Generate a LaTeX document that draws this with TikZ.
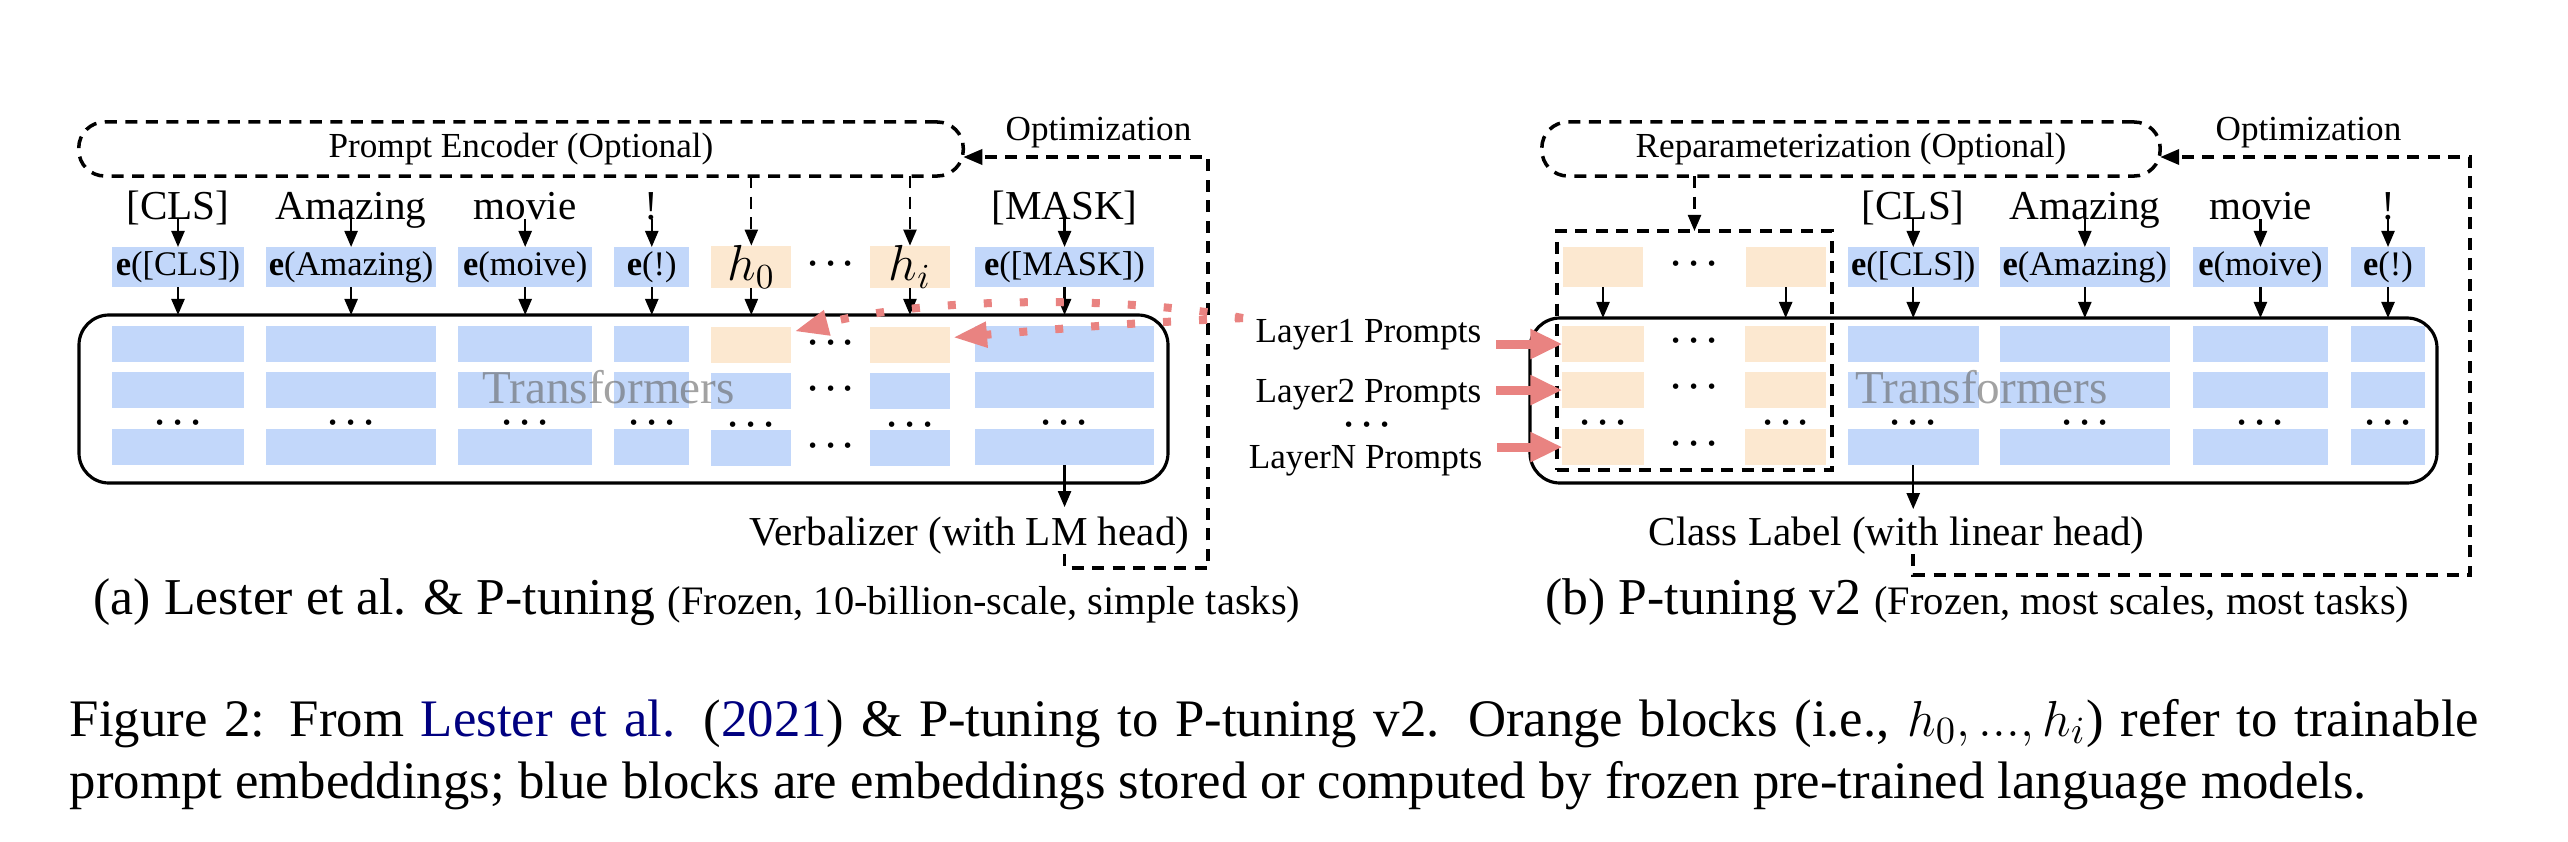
\documentclass[tikz,border=0pt]{standalone}
\usepackage{fontspec}
\setmainfont{Liberation Serif}
\usetikzlibrary{arrows.meta,positioning,calc,fit}
\newcommand{\SmallLbl}{\fontsize{10}{12}\selectfont}
\newcommand{\TokFont}{\fontsize{11.7}{14}\selectfont}
\newcommand{\EmbFont}{\fontsize{9.8}{12}\selectfont}
\newcommand{\HFont}{\fontsize{14.4}{16}\selectfont}
\newcommand{\TfFont}{\fontsize{13.4}{16}\selectfont}
\newcommand{\CapFont}{\fontsize{14.7}{17.6}\selectfont}
\newcommand{\CapBig}{\fontsize{15}{18}\selectfont}
\newcommand{\CapSmall}{\fontsize{11.5}{14}\selectfont}
\definecolor{EmbFill}{RGB}{194,215,250}
\definecolor{PrmFill}{RGB}{252,232,208}
\definecolor{RedArr}{RGB}{233,131,129}
\definecolor{CiteBlue}{RGB}{0,0,128}
\definecolor{TfGray}{RGB}{100,100,100}
\tikzset{
  %% blocks
  embBlk/.style={
    fill=EmbFill,
    minimum height=0.4cm,
    inner xsep=0.5pt, inner ysep=0pt, outer sep=0pt,
    font=\EmbFont,
  },
  prmBlk/.style={embBlk, fill=PrmFill},
  rowBlk/.style={
    fill=EmbFill,
    minimum height=0.36cm,
    inner sep=0pt, outer sep=0pt,
  },
  prmRow/.style={rowBlk, fill=PrmFill},
  encBox/.style={
    draw, line width=1pt,
    dash pattern=on 0.12cm off 0.085cm,
    rounded corners=0.26cm,
    inner sep=0pt, outer sep=0pt,
    font=\SmallLbl,
  },
  grpBox/.style={
    draw, line width=1pt,
    dash pattern=on 0.12cm off 0.085cm,
    inner sep=0pt, outer sep=0pt,
  },
  tfBox/.style={
    draw, line width=0.9pt,
    rounded corners=0.3cm,
    inner sep=0pt, outer sep=0pt,
  },
  %% texts
  tok/.style={font=\TokFont, inner sep=0pt, anchor=base},
  lbl/.style={font=\SmallLbl, inner sep=0pt},
  lblB/.style={font=\TokFont, inner sep=0pt},
  dotsTxt/.style={font=\SmallLbl\boldmath, inner sep=0pt, text height=3.3pt, text depth=0pt},
  tfTxt/.style={font=\TfFont, text=TfGray, text opacity=0.6, inner sep=0pt},
  capTxt/.style={font=\CapFont, inner sep=0pt, anchor=base west},
  %% arrows
  arr/.style={
    -{Triangle[length=0.16cm,width=0.13cm]},
    line width=0.65pt,
  },
  darr/.style={arr, dash pattern=on 0.12cm off 0.085cm},
  optArr/.style={
    -{Triangle[length=0.19cm,width=0.15cm]},
    line width=1pt,
    dash pattern=on 0.12cm off 0.085cm,
  },
  layArr/.style={
    -{Triangle[length=0.32cm,width=0.28cm]},
    line width=0.09cm,
    RedArr,
  },
  dotArr/.style={
    -{Triangle[length=0.34cm,width=0.24cm]},
    line width=0.08cm,
    dash pattern=on 0.08cm off 0.28cm,
    RedArr,
  },
}
%% three transformer rows under an embedding block: #1 name, #2 first-row style, #3 other rows, #4 width
\newcommand{\TfCol}[4]{%
  \node[#2, minimum width=#4, below=0.39cm of #1] (#1-r1) {};
  \node[#3, minimum width=#4, below=0.10cm of #1-r1] (#1-r2) {};
  \node[#3, minimum width=#4, below=0.21cm of #1-r2] (#1-r3) {};
  \node[dotsTxt] (#1-dd) at ($(#1-r2.south)!0.85!(#1-r3.north)$) {$\cdots$};
}

\begin{document}
\begin{tikzpicture}[x=0.01cm, y=-0.01cm]

\fill[white] (0,0) rectangle (2568,842);
\useasboundingbox (0,0) rectangle (2568,842);

%%═══════════════════════════════ PANEL (a) ═══════════════════════════════════

\node[encBox, minimum width=8.84cm, minimum height=0.54cm] (PE) at (521,149)
  {Prompt Encoder (Optional)};

%% ── Embedding row ──────────────────────────────────────────────────────────
\node[embBlk, minimum width=1.32cm] (eCLS) at (178,267) {\textbf{e}([CLS])};
\node[embBlk, minimum width=1.70cm, right=0.22cm of eCLS] (eAmz) {\textbf{e}(Amazing)};
\node[embBlk, minimum width=1.34cm, right=0.22cm of eAmz] (eMov) {\textbf{e}(moive)};
\node[embBlk, minimum width=0.75cm, right=0.22cm of eMov] (eExc) {\textbf{e}(!)};
\node[prmBlk, minimum width=0.80cm, font=\HFont, right=0.22cm of eExc] (eH0) {$h_0$};
\node[dotsTxt, right=0.15cm of eH0] (eHd) {$\cdots$};
\node[prmBlk, minimum width=0.80cm, font=\HFont, right=0.15cm of eHd] (eHi) {$h_i$};
\node[embBlk, minimum width=1.79cm, right=0.25cm of eHi] (eMsk) {\textbf{e}([MASK])};

%% ── Input tokens ───────────────────────────────────────────────────────────
\coordinate (TokY) at (0,219);
\node[tok] (tCLS) at (eCLS |- TokY) {[CLS]};
\node[tok] (tAmz) at (eAmz |- TokY) {Amazing};
\node[tok] (tMov) at (eMov |- TokY) {movie};
\node[tok] (tExc) at (eExc |- TokY) {!};
\node[tok] (tMsk) at (eMsk |- TokY) {[MASK]};

%% ── Transformer rows ───────────────────────────────────────────────────────
\TfCol{eCLS}{rowBlk}{rowBlk}{1.32cm}
\TfCol{eAmz}{rowBlk}{rowBlk}{1.70cm}
\TfCol{eMov}{rowBlk}{rowBlk}{1.34cm}
\TfCol{eExc}{rowBlk}{rowBlk}{0.75cm}
\TfCol{eH0}{prmRow}{rowBlk}{0.80cm}
\TfCol{eHi}{prmRow}{rowBlk}{0.80cm}
\TfCol{eMsk}{rowBlk}{rowBlk}{1.79cm}
\node[dotsTxt] (eHd-r1) at (eHd |- eH0-r1) {$\cdots$};
\node[dotsTxt] (eHd-r2) at (eHd |- eH0-r2) {$\cdots$};
\node[dotsTxt] (eHd-r3) at (eHd |- eH0-r3) {$\cdots$};

\coordinate (TF1a) at (79,315);
\coordinate (TF1b) at (1168,483);
\node[tfBox, fit=(TF1a)(TF1b)] (TF1) {};
\node[tfTxt] (TF1t) at ($(TF1.center)+(-15,-12)$) {Transformers};

%% ── Arrows ─────────────────────────────────────────────────────────────────
\draw[arr] (tCLS.base) -- (eCLS.north);
\draw[arr] (tAmz.base) -- (eAmz.north);
\draw[arr] (tMov.base) -- (eMov.north);
\draw[arr] (tExc.base) -- (eExc.north);
\draw[arr] (tMsk.base) -- (eMsk.north);
\draw[darr](eH0.north |- PE.south) -- (eH0.north);
\draw[darr](eHi.north |- PE.south) -- (eHi.north);
\draw[arr] (eCLS.south) -- (eCLS.south |- TF1.north);
\draw[arr] (eAmz.south) -- (eAmz.south |- TF1.north);
\draw[arr] (eMov.south) -- (eMov.south |- TF1.north);
\draw[arr] (eExc.south) -- (eExc.south |- TF1.north);
\draw[arr] (eH0.south)  -- (eH0.south  |- TF1.north);
\draw[arr] (eHi.south)  -- (eHi.south  |- TF1.north);
\draw[arr] (eMsk.south) -- (eMsk.south |- TF1.north);

\node[lblB, anchor=base east] (VB) at (1190,545) {Verbalizer (with LM head)};
\draw[arr] (eMsk-r3.south) -- ++(0,42);

%% ── Optimization loop ──────────────────────────────────────────────────────
\node[lbl, anchor=base east] (OptA) at (1192,140) {Optimization};
\coordinate (OptAc) at (1208,568);
\draw[optArr] (eMsk-r3.south |- VB.south) |- (OptAc) |- ($(PE.east)+(0,8)$);

%%═══════════════════════════════ PANEL (b) ═══════════════════════════════════

\node[encBox, minimum width=6.18cm, minimum height=0.54cm] (RP) at (1851,149)
  {Reparameterization (Optional)};

%% ── Embedding row ──────────────────────────────────────────────────────────
\node[prmBlk, minimum width=0.80cm] (pA) at (1603,267) {};
\node[dotsTxt, right=0.27cm of pA] (pDots) {$\cdots$};
\node[prmBlk, minimum width=0.80cm, right=0.27cm of pDots] (pB) {};
\node[embBlk, minimum width=1.31cm, right=0.22cm of pB] (fCLS) {\textbf{e}([CLS])};
\node[embBlk, minimum width=1.70cm, right=0.21cm of fCLS] (fAmz) {\textbf{e}(Amazing)};
\node[embBlk, minimum width=1.35cm, right=0.23cm of fAmz] (fMov) {\textbf{e}(moive)};
\node[embBlk, minimum width=0.74cm, right=0.23cm of fMov] (fExc) {\textbf{e}(!)};

\node[tok] (uCLS) at (fCLS |- TokY) {[CLS]};
\node[tok] (uAmz) at (fAmz |- TokY) {Amazing};
\node[tok] (uMov) at (fMov |- TokY) {movie};
\node[tok] (uExc) at (fExc |- TokY) {!};

%% ── Transformer rows ───────────────────────────────────────────────────────
\TfCol{pA}{prmRow}{prmRow}{0.81cm}
\TfCol{pB}{prmRow}{prmRow}{0.81cm}
\TfCol{fCLS}{rowBlk}{rowBlk}{1.31cm}
\TfCol{fAmz}{rowBlk}{rowBlk}{1.70cm}
\TfCol{fMov}{rowBlk}{rowBlk}{1.35cm}
\TfCol{fExc}{rowBlk}{rowBlk}{0.74cm}
\node[dotsTxt] (pDots-r1) at (pDots |- pA-r1) {$\cdots$};
\node[dotsTxt] (pDots-r2) at (pDots |- pA-r2) {$\cdots$};
\node[dotsTxt] (pDots-r3) at (pDots |- pA-r3) {$\cdots$};

\coordinate (TF2a) at (1530,318);
\coordinate (TF2b) at (2437,483);
\node[tfBox, fit=(TF2a)(TF2b)] (TF2) {};
\node[tfTxt] (TF2t) at ($(TF2.center)+(-2,-13)$) {Transformers};

\coordinate (GRPa) at (1557,231);
\coordinate (GRPb) at (1832,470);
\node[grpBox, fit=(GRPa)(GRPb)] (GRP) {};

%% ── Arrows ─────────────────────────────────────────────────────────────────
\draw[darr](GRP.north |- RP.south) -- (GRP.north);
\draw[arr] (uCLS.base) -- (fCLS.north);
\draw[arr] (uAmz.base) -- (fAmz.north);
\draw[arr] (uMov.base) -- (fMov.north);
\draw[arr] (uExc.base) -- (fExc.north);
\draw[arr] (pA.south)   -- (pA.south   |- TF2.north);
\draw[arr] (pB.south)   -- (pB.south   |- TF2.north);
\draw[arr] (fCLS.south) -- (fCLS.south |- TF2.north);
\draw[arr] (fAmz.south) -- (fAmz.south |- TF2.north);
\draw[arr] (fMov.south) -- (fMov.south |- TF2.north);
\draw[arr] (fExc.south) -- (fExc.south |- TF2.north);

\node[lblB, anchor=base west] (CL) at (1648,545) {Class Label (with linear head)};
\draw[arr] (fCLS-r3.south) -- ++(0,44);

%% ── Optimization loop ──────────────────────────────────────────────────────
\node[lbl, anchor=base east] (OptB) at (2402,140) {Optimization};
\coordinate (OptBc) at (2470,575);
\draw[optArr] (fCLS-r3.south |- CL.south) |- (OptBc) |- ($(RP.east)+(0,8)$);

%% ── Layer prompts ──────────────────────────────────────────────────────────
\node[lbl, anchor=base east] (L1) at (1482,342) {Layer1 Prompts};
\node[lbl, anchor=base east] (L2) at (1482,402) {Layer2 Prompts};
\node[lbl, anchor=base east] (LN) at (1483,468) {LayerN Prompts};
\node[dotsTxt] (Ld) at ($(L2.south)!0.5!(LN.north)$) {$\cdots$};

\draw[layArr, shorten <=0.14cm] (L1.east |- pA-r1.west) -- (pA-r1.west);
\draw[layArr, shorten <=0.14cm] (L2.east |- pA-r2.west) -- (pA-r2.west);
\draw[layArr, shorten <=0.14cm] (LN.east |- pA-r3.west) -- (pA-r3.west);

\coordinate (DotS) at ($(L1.north west)+(-12,0)$);
\draw[dotArr] (DotS) .. controls (1130,296) and (930,296) .. ($(eH0-r1.north east)+(3,4)$);
\draw[dotArr] (DotS) .. controls (1120,324) .. ($(eHi-r1.east)+(3,-8)$);

%% ── Captions ───────────────────────────────────────────────────────────────
\node[capTxt] (SubA) at (93,614)
  {(a) Lester et al. \& P-tuning {\CapSmall (Frozen, 10-billion-scale, simple tasks)}};
\node[capTxt] (SubB) at (1545,614)
  {(b) P-tuning v2 {\CapSmall (Frozen, most scales, most tasks)}};
\node[capTxt, font=\CapBig] (Cap1) at (69,736) {\makebox[24.08cm][s]{Figure 2: From
  \textcolor{CiteBlue}{Lester et al.} (\textcolor{CiteBlue}{2021}) \& P-tuning to
  P-tuning v2. Orange blocks (i.e., $h_0, ..., h_i$) refer to trainable}};
\node[capTxt, font=\CapBig] (Cap2) at ($(Cap1.base west)+(0,62)$) {prompt embeddings; blue blocks
  are embeddings stored or computed by frozen pre-trained language models.};

\end{tikzpicture}
\end{document}
